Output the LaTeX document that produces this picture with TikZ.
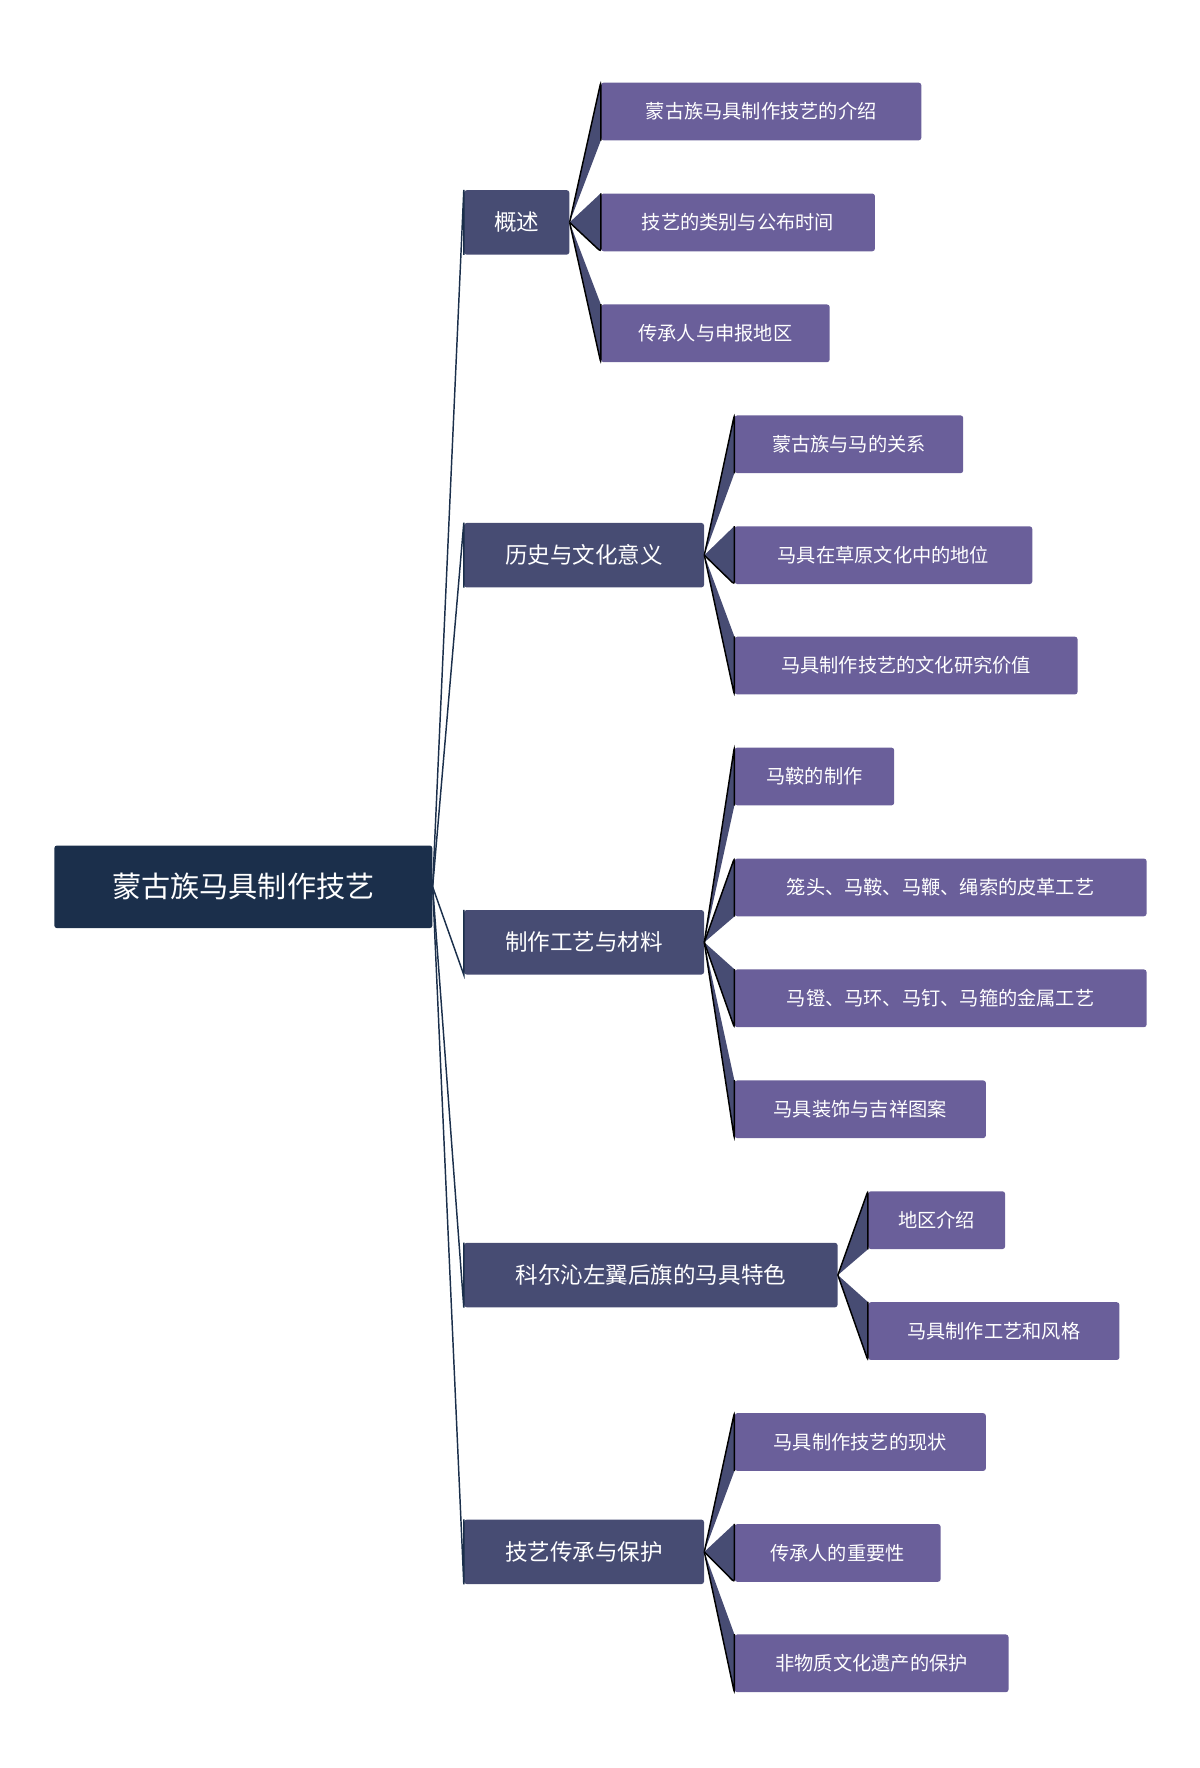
\documentclass[tikz,border=0pt]{standalone}
\usepackage{fontspec}
\setmainfont{Noto Sans CJK SC}
\begin{document}
\begin{tikzpicture}[x=0.03cm,y=-0.03cm,
 rootbox/.style={fill=root,text=white,rounded corners=2pt,inner sep=0pt,font=\fontsize{22}{24}\selectfont},
 lone/.style={fill=lone,text=white,rounded corners=2pt,inner sep=0pt,font=\fontsize{17}{19}\selectfont},
 ltwo/.style={fill=ltwo,text=white,rounded corners=2pt,inner sep=0pt,font=\fontsize{14.5}{16}\selectfont},
 link/.style={line width=1.1pt}]
\definecolor{root}{HTML}{1B2F4B}
\definecolor{lone}{HTML}{474C73}
\definecolor{ltwo}{HTML}{6A5F9A}
\useasboundingbox (0,0) rectangle (1060,1562);
\newcommand{\bx}[6]{\node[#1,minimum width=#4*0.03cm-#2*0.03cm,minimum height=#5*0.03cm-#3*0.03cm] (#6) at ({(#2+#4)/2},{(#3+#5)/2}) {};}
\node[rootbox,minimum width=334*0.03cm,minimum height=73*0.03cm] (r) at (215,783.5) {蒙古族马具制作技艺};
\def\L#1#2#3#4#5{\node[lone,minimum width=#3*0.03cm-410*0.03cm,minimum height=57*0.03cm] (#1) at ({(410+#3)/2},#2) {#5};}
\L{a}{196.5}{503}{}{概述}
\L{b}{490.5}{622}{}{历史与文化意义}
\L{c}{832.5}{622}{}{制作工艺与材料}
\L{d}{1126.5}{740}{}{科尔沁左翼后旗的马具特色}
\L{e}{1371}{622}{}{技艺传承与保护}
\def\K#1#2#3#4#5{\node[ltwo,minimum width=#4*0.03cm-#2*0.03cm,minimum height=51*0.03cm] (#1) at ({(#2+#4)/2},#3) {#5};}
\K{a1}{531}{98.5}{814}{蒙古族马具制作技艺的介绍}
\K{a2}{531}{196.5}{773}{技艺的类别与公布时间}
\K{a3}{531}{294.5}{733}{传承人与申报地区}
\K{b1}{649}{392.5}{851}{蒙古族与马的关系}
\K{b2}{649}{490.5}{912}{马具在草原文化中的地位}
\K{b3}{649}{588}{952}{马具制作技艺的文化研究价值}
\K{c1}{649}{686}{790}{马鞍的制作}
\K{c2}{649}{784}{1013}{笼头、马鞍、马鞭、绳索的皮革工艺}
\K{c3}{649}{882}{1013}{马镫、马环、马钉、马箍的金属工艺}
\K{c4}{649}{980}{871}{马具装饰与吉祥图案}
\K{d1}{767}{1078}{888}{地区介绍}
\K{d2}{767}{1176}{989}{马具制作工艺和风格}
\K{e1}{649}{1274}{871}{马具制作技艺的现状}
\K{e2}{649}{1372}{831}{传承人的重要性}
\K{e3}{649}{1469.5}{891}{非物质文化遗产的保护}
\foreach \n in {a,b}{\draw[link,root] (r.east) -- (\n.north west) -- (\n.south west);}
\foreach \n in {c,d,e}{\draw[link,root] (r.east) -- (\n.south west) -- (\n.north west);}
\foreach \p/\n in {a/a1,b/b1,c/c1,c/c2,d/d1,e/e1}{\draw[link,lone] (\p.east) -- (\n.north west) -- (\n.south west);}
\foreach \p/\n in {a/a2,a/a3,b/b2,b/b3,c/c3,c/c4,d/d2,e/e2,e/e3}{\draw[link,lone] (\p.east) -- (\n.south west) -- (\n.north west);}
\end{tikzpicture}
\end{document}
